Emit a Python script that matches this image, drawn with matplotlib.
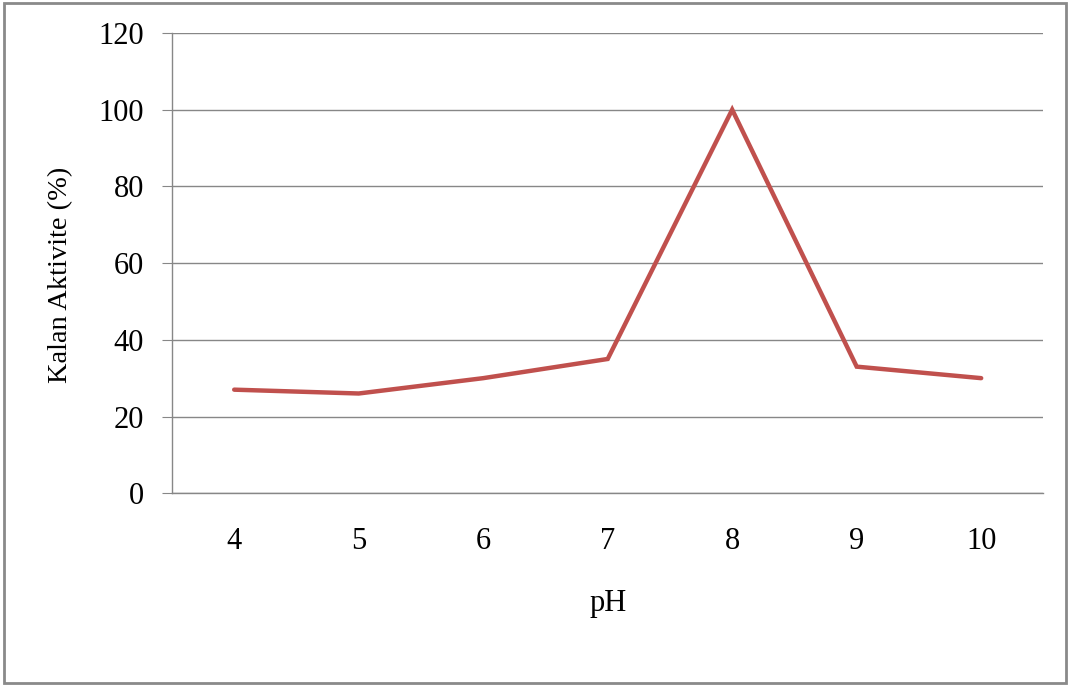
import numpy as np
import matplotlib.pyplot as plt
from matplotlib.patches import Rectangle

# veriler
ph = [4, 5, 6, 7, 8, 9, 10]
aktivite = [27, 26, 30, 35, 100, 33, 30]

plt.rcParams['font.family'] = ['Liberation Serif', 'DejaVu Serif']

fig = plt.figure(figsize=(10.68, 6.86), dpi=100)
ax = fig.add_axes([0.161, 0.281, 0.816, 0.671])

x = np.arange(len(ph))
ax.plot(x, aktivite, color='#C0504D', linewidth=3.2, solid_capstyle='round',
        solid_joinstyle='miter')

ax.set_xlim(-0.5, len(ph) - 0.5)
ax.set_ylim(0, 120)
ax.set_yticks(range(0, 121, 20))
ax.set_xticks(x)
ax.set_xticklabels([str(p) for p in ph])

ax.yaxis.grid(True, color='#878787', linewidth=1)
ax.set_axisbelow(True)
for s in ['top', 'right']:
    ax.spines[s].set_visible(False)
for s in ['left', 'bottom']:
    ax.spines[s].set_color('#878787')
    ax.spines[s].set_linewidth(1)

ax.tick_params(axis='y', length=7, color='#878787', labelsize=22, pad=13)
ax.tick_params(axis='x', length=0, labelsize=22, pad=24)

ax.set_xlabel('pH', fontsize=22, labelpad=24)
ax.set_ylabel('Kalan Aktivite (%)', fontsize=20.5)
ax.yaxis.set_label_coords(-0.113, 0.474)

# dış çerçeve
fig.patches.append(Rectangle((0.004, 0.004), 0.994, 0.992, transform=fig.transFigure,
                             fill=False, edgecolor='#8a8a8a', linewidth=2))

fig.savefig('out.png', dpi=100)
